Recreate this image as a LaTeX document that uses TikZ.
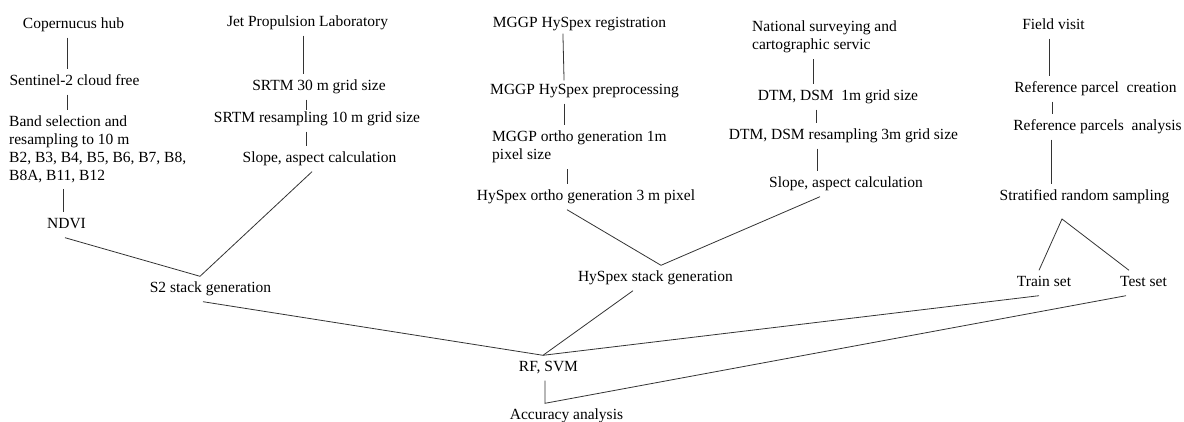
\documentclass[tikz,border=0pt]{standalone}
\usepackage{fontspec}
\setmainfont{Liberation Serif}
\usepackage{tikz}
\usepackage{xcolor}

\tikzset{
    lbl/.style={inner xsep=0pt, inner ysep=6pt, text height=10pt, text depth=3pt,
        font=\fontsize{15.5pt}{17.8pt}\selectfont},
    blk/.style={inner xsep=0pt, inner ysep=6pt, align=left, anchor=west,
        font=\fontsize{15.5pt}{17.8pt}\selectfont},
    link/.style={draw=black!80, line width=0.8pt}
}

\begin{document}
\begin{tikzpicture}[x=1pt, y=-1pt]
    \useasboundingbox (0,0) rectangle (1184,422);

    \node[lbl] (cop) at (73.5, 25) {Copernucus hub};
    \node[lbl] (sen) at (74.5, 82) {Sentinel-2 cloud free};
    \node[blk] (band) at (9, 149.5) {Band selection and\\resampling to 10 m\\B2, B3, B4, B5, B6, B7, B8,\\B8A, B11, B12};
    \node[lbl] (ndvi) at (66.5, 225) {NDVI};
    \node[lbl] (s2) at (210.5, 289) {S2 stack generation};

    \node[lbl] (jpl) at (307.5, 23) {Jet Propulsion Laboratory};
    \node[lbl] (srtm) at (319, 87) {SRTM 30 m grid size};
    \node[lbl] (srtmres) at (317, 119) {SRTM resampling 10 m grid size};
    \node[lbl] (slope) at (319.5, 159) {Slope, aspect calculation};

    \node[lbl] (reg) at (579.5, 24) {MGGP HySpex registration};
    \node[lbl] (pre) at (584.5, 91) {MGGP HySpex preprocessing};
    \node[blk] (ortho) at (492, 147) {MGGP ortho generation 1m\\pixel size};
    \node[lbl] (hyortho) at (586, 197) {HySpex ortho generation 3 m pixel};
    \node[lbl] (hystack) at (655.5, 278) {HySpex stack generation};

    \node[blk] (nat) at (752, 37) {National surveying and\\cartographic servic};
    \node[lbl] (dtm) at (838, 97) {DTM, DSM\ \ 1m grid size};
    \node[lbl] (dtmres) at (843.5, 136) {DTM, DSM resampling 3m grid size};
    \node[lbl] (slopeb) at (846, 184) {Slope, aspect calculation};

    \node[lbl] (field) at (1053.5, 26) {Field visit};
    \node[lbl] (refc) at (1095.5, 89) {Reference parcel\ \ creation};
    \node[lbl] (refa) at (1097.5, 127) {Reference parcels\ \ analysis};
    \node[lbl] (strat) at (1084.5, 197) {Stratified random sampling};
    \node[lbl] (train) at (1044, 283) {Train set};
    \node[lbl] (test) at (1143.5, 283) {Test set};
    \coordinate (split) at (1062, 219);

    \node[lbl] (rf) at (548.5, 368) {RF, SVM};
    \node[lbl] (acc) at (566.5, 416) {Accuracy analysis};

    \draw[link] ([xshift=-6.5pt]cop.south) -- ([xshift=-7.5pt]sen.north);
    \draw[link] ([xshift=-7.5pt]sen.south) -- ([xshift=58pt]band.north west);
    \draw[link] ([xshift=54pt]band.south west) -- ([xshift=-3.5pt]ndvi.north);
    \draw[link] ([xshift=-1.5pt]ndvi.south) -- ([xshift=-10.5pt]s2.north) -- ([xshift=-7.5pt]slope.south);

    \draw[link] ([xshift=-4.5pt]jpl.south) -- ([xshift=-16pt]srtm.north);
    \draw[link, shorten >=-4pt] ([xshift=-13pt]srtm.south) -- ([xshift=-11pt]srtmres.north);
    \draw[link] ([xshift=-11pt]srtmres.south) -- ([xshift=-13.5pt]slope.north);

    \draw[link, shorten <=-3pt, shorten >=-2pt] ([xshift=-16.5pt]reg.south) -- ([xshift=-20.5pt]pre.north);
    \draw[link] ([xshift=-20.5pt]pre.south) -- ([xshift=72pt]ortho.north west);
    \draw[link] ([xshift=75pt]ortho.south west) -- ([xshift=-19pt]hyortho.north);
    \draw[link] ([xshift=-19pt]hyortho.south) -- ([xshift=5.5pt]hystack.north) -- ([xshift=-26pt]slopeb.south);

    \draw[link] ([xshift=61pt]nat.south west) -- ([xshift=-25pt]dtm.north);
    \draw[link] ([xshift=-22pt]dtm.south) -- ([xshift=-27.5pt]dtmres.north);
    \draw[link] ([xshift=-26.5pt]dtmres.south) -- ([xshift=-29pt]slopeb.north);

    \draw[link] ([xshift=-4.5pt]field.south) -- ([xshift=-46.5pt]refc.north);
    \draw[link] ([xshift=-43.5pt]refc.south) -- ([xshift=-45.5pt]refa.north);
    \draw[link] ([xshift=-46.5pt]refa.south) -- ([xshift=-33.5pt]strat.north);
    \draw[link] ([xshift=-5pt]train.north) -- (split) -- ([xshift=-14.5pt]test.north);

    \draw[link] ([xshift=-7.5pt]s2.south) -- ([xshift=-5.5pt]rf.north);
    \draw[link] ([xshift=-22.5pt]hystack.south) -- ([xshift=-5.5pt]rf.north);
    \draw[link] ([xshift=-5pt]train.south) -- ([xshift=-5.5pt]rf.north);
    \draw[link] ([xshift=-3.5pt]rf.south) -- ([xshift=-21.5pt]acc.north) -- ([xshift=-17.5pt]test.south);
\end{tikzpicture}
\end{document}
